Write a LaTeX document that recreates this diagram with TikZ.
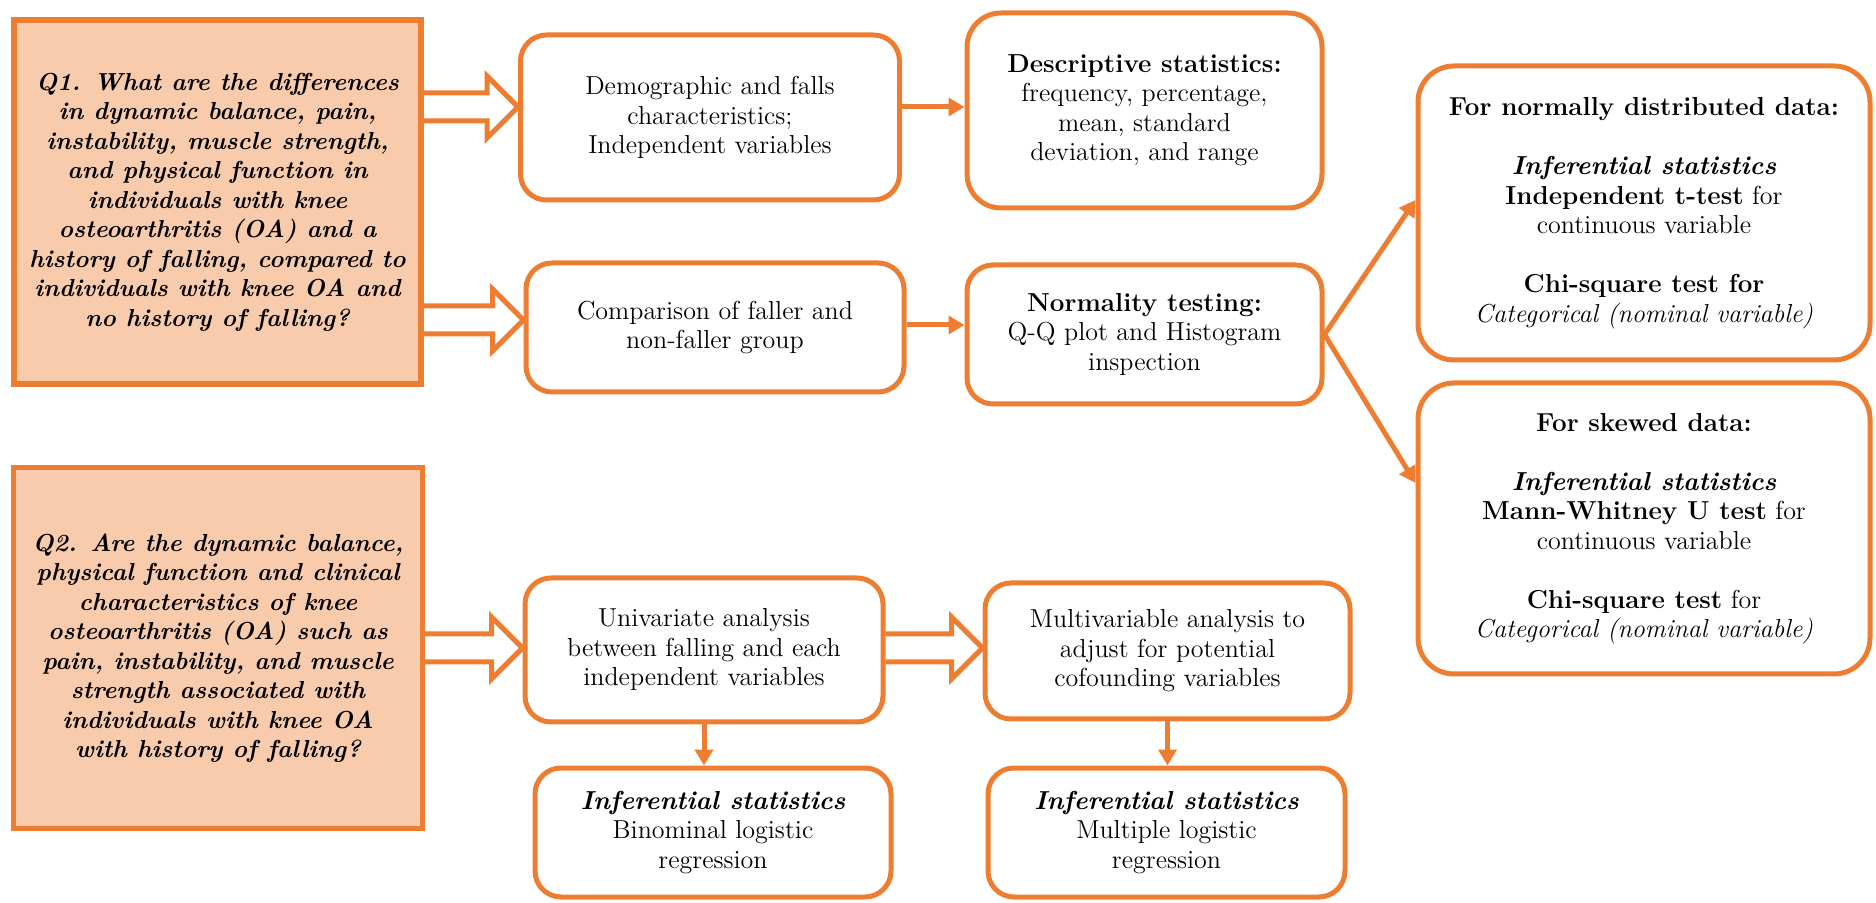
\documentclass[tikz,border=0pt]{standalone}
\usetikzlibrary{arrows.meta,calc}
\definecolor{accent}{RGB}{237,125,49}
\definecolor{peach}{RGB}{248,203,173}
\newcommand\boxfont{\fontsize{13}{14.75}\selectfont}
\newcommand\qfont{\fontsize{12.3}{14.75}\selectfont\bfseries\itshape}
\newcommand\infstat{\textbf{\textit{Inferential statistics}}}
% open block arrow from the right side of one node to the left side of another, on a given row
\newcommand\hollowlink[3]{%
  \draw[hol] ($(#1.east|-#3)+(0,-14)$) -- ($(#2.west|-#3)+(-31,-14)$)
    -- ($(#2.west|-#3)+(-31,-31)$) -- ($(#2.west|-#3)+(0,0)$)
    -- ($(#2.west|-#3)+(-31,31)$) -- ($(#2.west|-#3)+(-31,14)$)
    -- ($(#1.east|-#3)+(0,14)$);}
\begin{document}
\begin{tikzpicture}[x=0.5pt,y=-0.5pt,
  qbox/.style={draw=accent, fill=peach, line width=2.7pt, align=center, font=\qfont, inner sep=0pt},
  rbox/.style={draw=accent, fill=white, line width=2.5pt, rounded corners=13pt, align=center, font=\boxfont, inner sep=0pt},
  bigbox/.style={rbox, rounded corners=18pt},
  link/.style={draw=accent, line width=2.5pt, -{Triangle[length=8pt,width=9pt]}},
  hol/.style={draw=accent, line width=2.5pt, line join=miter},
]
\useasboundingbox (0,0) rectangle (1876,903);

% research questions
\node[qbox, minimum width=203.5pt, minimum height=182pt] (q1) at (217.5,202)
  {Q1. What are the differences\\ in dynamic balance, pain,\\ instability, muscle strength,\\ and physical function in\\ individuals with knee\\ osteoarthritis (OA) and a\\ history of falling, compared to\\ individuals with knee OA and\\ no history of falling?};
\node[qbox, minimum width=204.5pt, minimum height=180.5pt] (q2) at (218,648)
  {Q2. Are the dynamic balance,\\ physical function and clinical\\ characteristics of knee\\ osteoarthritis (OA) such as\\ pain, instability, and muscle\\ strength associated with\\ individuals with knee OA\\ with history of falling?};

% first question: analysis steps
\node[rbox, minimum width=189.5pt, minimum height=82.5pt] (demo) at (710,117.5)
  {Demographic and falls\\ characteristics;\\ Independent variables};
\node[rbox, minimum width=189pt, minimum height=64.5pt] (comp) at (715,327.5)
  {Comparison of faller and\\ non-faller group};
\node[rbox, rounded corners=17pt, minimum width=177.5pt, minimum height=97.5pt] (desc) at (1144.5,110.5)
  {\textbf{Descriptive statistics:}\\ frequency, percentage,\\ mean, standard\\ deviation, and range};
\node[rbox, minimum width=177.5pt, minimum height=69.5pt] (norm) at (1144.5,334.5)
  {\textbf{Normality testing:}\\ Q-Q plot and Histogram\\ inspection};
\node[bigbox, minimum width=226pt, minimum height=147pt] (normal) at (1644,213)
  {\textbf{For normally distributed data:}\\[14.75pt] \infstat\\ \textbf{Independent t-test} for\\ continuous variable\\[14.75pt] \textbf{Chi-square test for}\\ \textit{Categorical (nominal variable)}};
\node[bigbox, minimum width=226pt, minimum height=145.5pt] (skew) at (1644,528.5)
  {\textbf{For skewed data:}\\[14.75pt] \infstat\\ \textbf{Mann-Whitney U test} for\\ continuous variable\\[14.75pt] \textbf{Chi-square test} for\\ \textit{Categorical (nominal variable)}};

% second question: analysis steps
\node[rbox, minimum width=179pt, minimum height=72pt] (univ) at (704,650)
  {Univariate analysis\\ between falling and each\\ independent variables};
\node[rbox, minimum width=182.5pt, minimum height=68pt] (multi) at (1167.5,651)
  {Multivariable analysis to\\ adjust for potential\\ cofounding variables};
\node[rbox, minimum width=178pt, minimum height=64.5pt] (binom) at (713,832.5)
  {\infstat\\ Binominal logistic\\ regression};
\node[rbox, minimum width=178.5pt, minimum height=64.5pt] (mreg) at (1166.5,832.5)
  {\infstat\\ Multiple logistic\\ regression};

% connector rows
\coordinate (ra) at (0,107);
\coordinate (rb) at (0,320);
\coordinate (rbs) at (0,325);
\coordinate (rc) at (0,648);
\coordinate (tn) at (0,200);
\coordinate (ts) at (0,483);

% block arrows
\hollowlink{q1}{demo}{ra}
\hollowlink{q1}{comp}{rb}
\hollowlink{q2}{univ}{rc}
\hollowlink{univ}{multi}{rc}

% thin arrows
\draw[link] (demo.east |- ra) -- (desc.west |- ra);
\draw[link] (comp.east |- rbs) -- (norm.west |- rbs);
\draw[link] (norm.east) -- (normal.west |- tn);
\draw[link] (norm.east) -- (skew.west |- ts);
\draw[link] (univ.south) -- (univ.south |- binom.north);
\draw[link] (multi.south) -- (multi.south |- mreg.north);
\end{tikzpicture}
\end{document}
